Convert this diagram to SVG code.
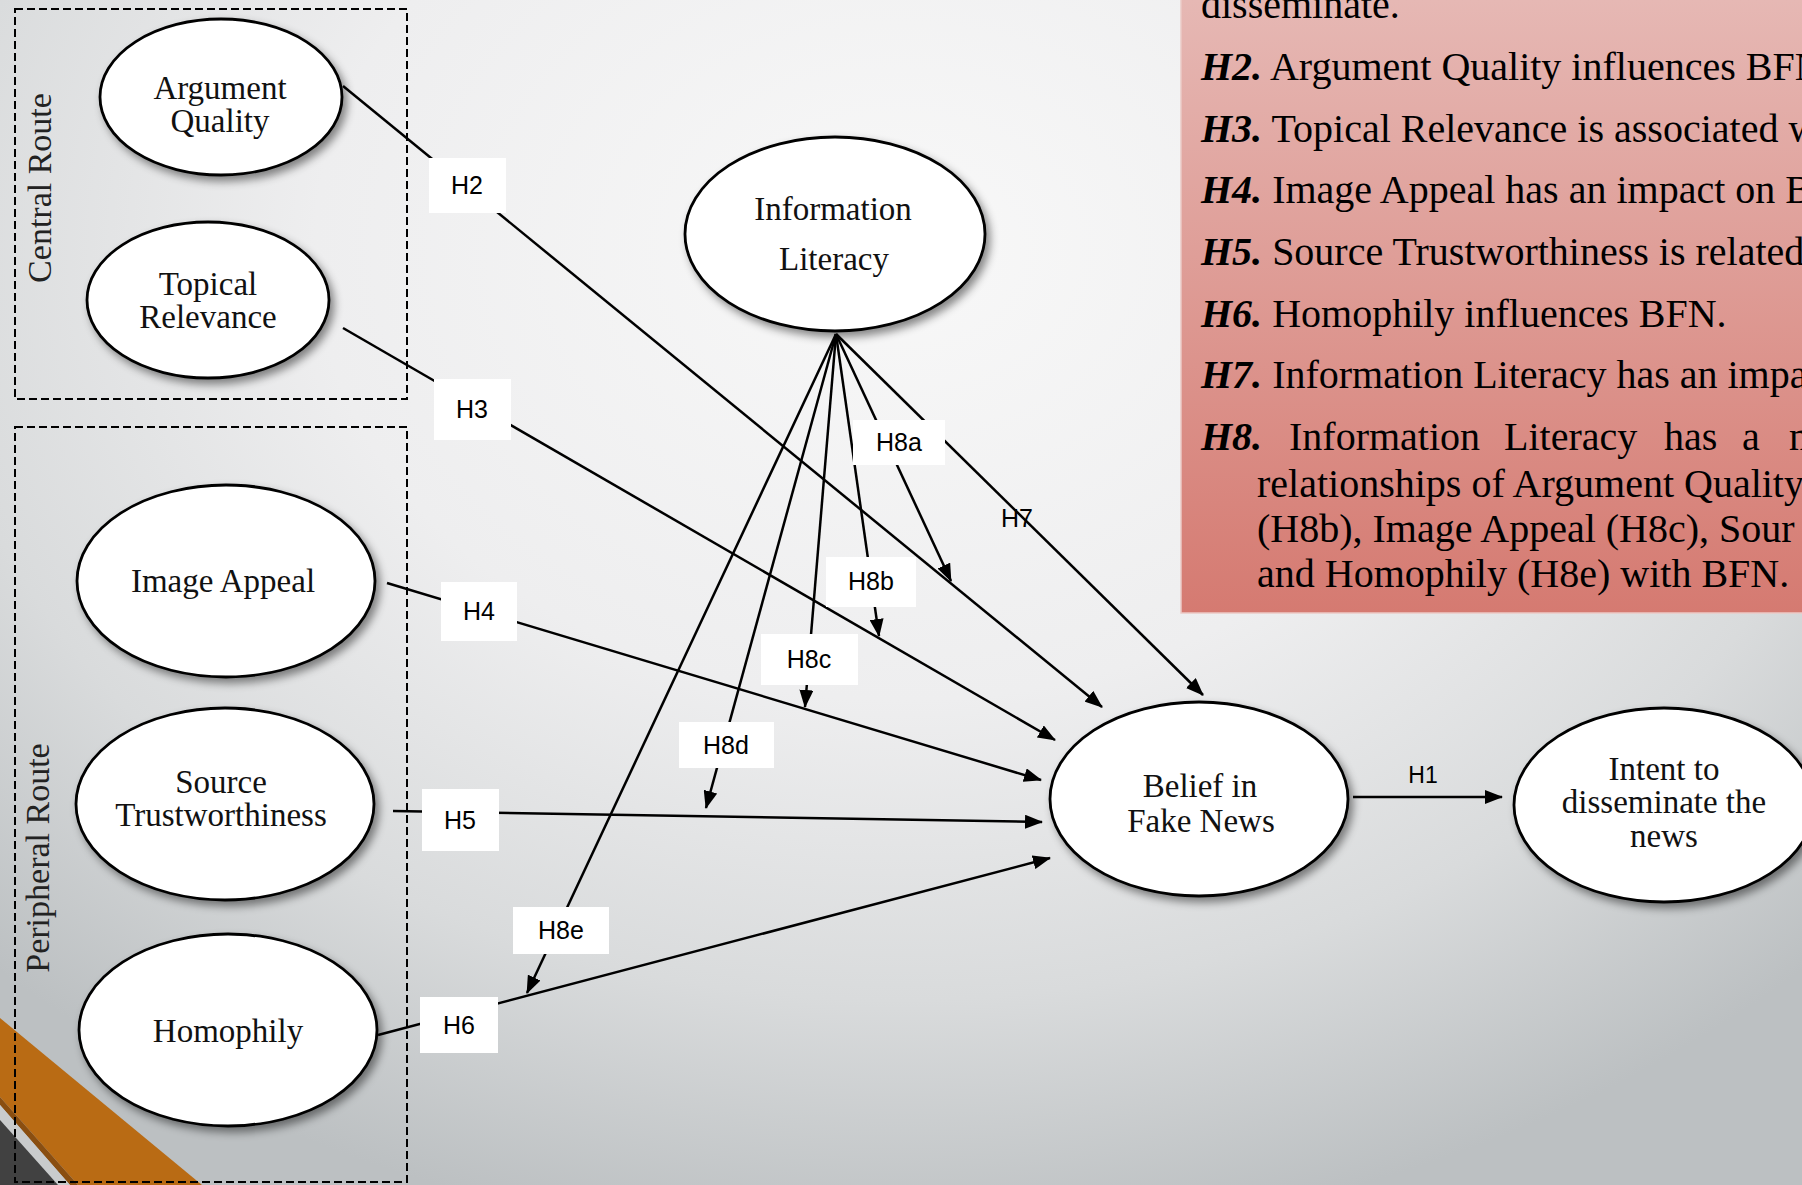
<svg xmlns="http://www.w3.org/2000/svg" width="1802" height="1185" viewBox="0 0 1802 1185">
<defs>
<radialGradient id="bg" gradientUnits="userSpaceOnUse" cx="900" cy="250" r="1000" gradientTransform="translate(900 250) scale(1.3 1) translate(-900 -250)">
<stop offset="0" stop-color="#f8f8f8"/>
<stop offset="0.45" stop-color="#eeeeef"/>
<stop offset="0.75" stop-color="#d9dbdc"/>
<stop offset="1" stop-color="#bcc0c2"/>
</radialGradient>
<linearGradient id="redbox" gradientUnits="userSpaceOnUse" x1="0" y1="0" x2="0" y2="613">
<stop offset="0" stop-color="#e6b8b4"/>
<stop offset="1" stop-color="#d57a71"/>
</linearGradient>
<filter id="shadow" x="-20%" y="-20%" width="150%" height="150%">
<feDropShadow dx="4" dy="5" stdDeviation="4" flood-color="#000" flood-opacity="0.45"/>
</filter>
<marker id="arr" markerUnits="userSpaceOnUse" markerWidth="18" markerHeight="14" refX="17" refY="7" orient="auto">
<path d="M0,0 L18,7 L0,14 z" fill="#000"/>
</marker>
<style>
.node{fill:#fff;stroke:#000;stroke-width:2.8;filter:url(#shadow)}
.ntxt{font-family:"Liberation Serif","Times New Roman",serif;font-size:33px;fill:#111;text-anchor:middle}
.route{fill:none;stroke:#000;stroke-width:2;stroke-dasharray:8 4}
.rtxt{font-family:"Liberation Serif","Times New Roman",serif;font-size:34px;fill:#222;text-anchor:middle}
.conn{fill:none;stroke:#000;stroke-width:2.5}
.arrow{marker-end:url(#arr)}
.lbox{fill:#fff;stroke:none}
.ltxt{font-family:"Liberation Sans",Arial,sans-serif;font-size:25px;fill:#000;text-anchor:middle}
.btxt{font-family:"Liberation Serif","Times New Roman",serif;font-size:40px;fill:#000}
.bi{font-weight:bold;font-style:italic}
</style>
</defs>

<rect x="0" y="0" width="1802" height="1185" fill="url(#bg)"/>

<!-- bottom-left decoration -->
<g id="decoration">
<polygon points="0,1018 202,1185 78,1185 0,1097" fill="#b96b14"/>
<polygon points="0,1097 78,1185 70,1185 0,1105" fill="#8a4e10"/>
<polygon points="0,1105 70,1185 58,1185 0,1120" fill="#c9cbcc"/>
<polygon points="0,1120 58,1185 0,1185" fill="#414141"/>
</g>

<!-- route groups -->
<g id="central-route">
<rect class="route" x="15" y="9" width="392" height="390"/>
<text class="rtxt" transform="translate(51 188) rotate(-90)">Central Route</text>
</g>
<g id="peripheral-route">
<rect class="route" x="15" y="427" width="392" height="755"/>
<text class="rtxt" transform="translate(49 858) rotate(-90)">Peripheral Route</text>
</g>

<!-- connectors -->
<g id="connectors">
<path class="conn arrow" d="M343,86 L1102,707"/>
<path class="conn arrow" d="M343,328 L1055,740"/>
<path class="conn arrow" d="M387,583 L1041,780"/>
<path class="conn arrow" d="M393,811 L1042,822"/>
<path class="conn arrow" d="M378,1035 L1050,858"/>
<path class="conn arrow" d="M836,334 L1203,695"/>
<path class="conn arrow" d="M836,334 L951,581"/>
<path class="conn arrow" d="M836,334 L879,636"/>
<path class="conn arrow" d="M836,334 L805,707"/>
<path class="conn arrow" d="M836,334 L706,808"/>
<path class="conn arrow" d="M836,334 L527,993"/>
<path class="conn arrow" d="M1353,797 L1502,797"/>
<g id="labels">
<rect class="lbox" x="429" y="158" width="77" height="55"/><text class="ltxt" x="467" y="194">H2</text>
<rect class="lbox" x="434" y="379" width="77" height="61"/><text class="ltxt" x="472" y="418">H3</text>
<rect class="lbox" x="441" y="582" width="76" height="59"/><text class="ltxt" x="479" y="620">H4</text>
<rect class="lbox" x="422" y="789" width="77" height="62"/><text class="ltxt" x="460" y="829">H5</text>
<rect class="lbox" x="420" y="997" width="78" height="56"/><text class="ltxt" x="459" y="1034">H6</text>
<rect class="lbox" x="853" y="420" width="92" height="45"/><text class="ltxt" x="899" y="451">H8a</text>
<rect class="lbox" x="826" y="557" width="90" height="50"/><text class="ltxt" x="871" y="590">H8b</text>
<rect class="lbox" x="761" y="634" width="97" height="51"/><text class="ltxt" x="809" y="668">H8c</text>
<rect class="lbox" x="679" y="722" width="95" height="46"/><text class="ltxt" x="726" y="754">H8d</text>
<rect class="lbox" x="513" y="907" width="96" height="47"/><text class="ltxt" x="561" y="939">H8e</text>
<text class="ltxt" x="1017" y="527">H7</text>
<text class="ltxt" x="1423" y="783" style="font-size:23px">H1</text>
</g>
</g>

<!-- nodes -->
<g id="argument-quality">
<ellipse class="node" cx="221" cy="97" rx="121" ry="78"/>
<text class="ntxt" x="220" y="99">Argument</text>
<text class="ntxt" x="220" y="132">Quality</text>
</g>
<g id="topical-relevance">
<ellipse class="node" cx="208" cy="300" rx="121" ry="78"/>
<text class="ntxt" x="208" y="295">Topical</text>
<text class="ntxt" x="208" y="328">Relevance</text>
</g>
<g id="image-appeal">
<ellipse class="node" cx="226" cy="581" rx="149" ry="96"/>
<text class="ntxt" x="223" y="592">Image Appeal</text>
</g>
<g id="source-trustworthiness">
<ellipse class="node" cx="225" cy="804" rx="149" ry="96"/>
<text class="ntxt" x="221" y="793">Source</text>
<text class="ntxt" x="221" y="826">Trustworthiness</text>
</g>
<g id="homophily">
<ellipse class="node" cx="228" cy="1030" rx="149" ry="96"/>
<text class="ntxt" x="228" y="1042">Homophily</text>
</g>
<g id="information-literacy">
<ellipse class="node" cx="835" cy="234" rx="150" ry="97"/>
<text class="ntxt" x="833" y="220">Information</text>
<text class="ntxt" x="834" y="270">Literacy</text>
</g>
<g id="belief-in-fake-news">
<ellipse class="node" cx="1199" cy="799" rx="149" ry="97"/>
<text class="ntxt" x="1200" y="797">Belief in</text>
<text class="ntxt" x="1201" y="832">Fake News</text>
</g>
<g id="intent-to-disseminate">
<ellipse class="node" cx="1664" cy="805" rx="150" ry="97"/>
<text class="ntxt" x="1664" y="780">Intent to</text>
<text class="ntxt" x="1664" y="813">disseminate the</text>
<text class="ntxt" x="1664" y="847">news</text>
</g>

<!-- hypotheses text box -->
<g id="hypotheses">
<rect x="1181" y="-5" width="630" height="618" fill="url(#redbox)" stroke="#eccac6" stroke-width="1.5"/>
<text class="btxt" x="1201" y="18">disseminate.</text>
<text class="btxt" x="1201" y="80"><tspan class="bi">H2.</tspan> Argument Quality influences BFN</text>
<text class="btxt" x="1201" y="142"><tspan class="bi">H3.</tspan> Topical Relevance is associated w</text>
<text class="btxt" x="1201" y="203"><tspan class="bi">H4.</tspan> Image Appeal has an impact on B</text>
<text class="btxt" x="1201" y="265"><tspan class="bi">H5.</tspan> Source Trustworthiness is related</text>
<text class="btxt" x="1201" y="327"><tspan class="bi">H6.</tspan> Homophily influences BFN.</text>
<text class="btxt" x="1201" y="388"><tspan class="bi">H7.</tspan> Information Literacy has an impa</text>
<text class="btxt" y="450"><tspan class="bi" x="1201">H8.</tspan><tspan x="1289">Information</tspan><tspan x="1504">Literacy</tspan><tspan x="1664">has</tspan><tspan x="1742">a</tspan><tspan x="1789">m</tspan></text>
<text class="btxt" x="1257" y="497">relationships of Argument Quality</text>
<text class="btxt" x="1257" y="542">(H8b), Image Appeal (H8c), Sour</text>
<text class="btxt" x="1257" y="587">and Homophily (H8e) with BFN.</text>
</g>
</svg>
